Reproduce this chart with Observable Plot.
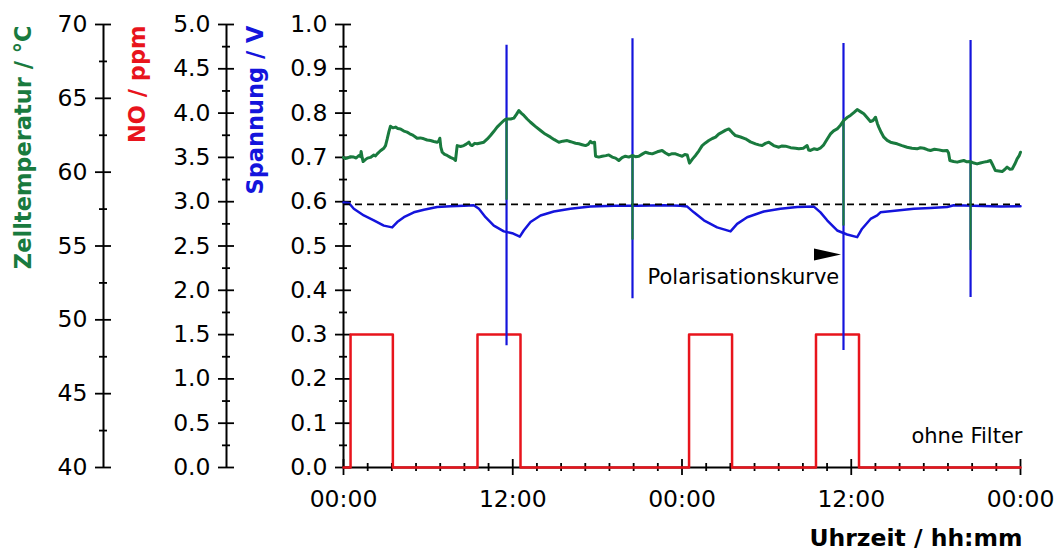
<!DOCTYPE html>
<html><head><meta charset="utf-8">
<script src="https://cdn.jsdelivr.net/npm/d3@7"></script>
<script src="https://cdn.jsdelivr.net/npm/@observablehq/plot@0.6"></script>
<style>body{margin:0;background:#fff}</style>
</head><body><div id="chart"></div>
<script>
// ---- data ----
const tempTime = [
  0.00,0.13,0.26,0.50,0.73,0.90,1.09,1.20,1.25,1.32,
  1.39,1.55,1.70,1.91,2.15,2.27,2.39,2.62,2.86,2.98,
  3.10,3.22,3.33,3.50,3.69,3.85,4.04,4.28,4.51,4.70,
  4.87,5.05,5.22,5.45,5.70,5.93,6.17,6.40,6.64,6.75,
  6.83,6.90,7.00,7.17,7.35,7.58,7.82,7.94,8.06,8.30,
  8.53,8.70,8.89,9.00,9.12,9.30,9.48,9.72,9.95,10.20,
  10.42,10.65,10.89,11.13,11.37,11.50,11.60,11.85,12.08,12.25,
  12.43,12.60,12.79,13.02,13.26,13.60,13.97,14.30,14.68,14.95,
  15.27,15.55,15.86,16.05,16.21,16.45,16.69,16.92,17.16,17.35,
  17.51,17.63,17.80,17.87,18.10,18.34,18.60,18.81,19.05,19.29,
  19.52,19.75,19.99,20.23,20.47,20.70,20.94,21.18,21.41,21.65,
  21.89,22.25,22.59,22.83,23.07,23.30,23.54,23.78,24.01,24.20,
  24.37,24.53,24.75,24.96,25.20,25.43,25.66,25.90,26.15,26.38,
  26.60,26.85,27.10,27.32,27.55,27.79,28.15,28.50,28.85,29.21,
  29.45,29.68,29.92,30.16,30.50,30.87,31.10,31.34,31.70,32.05,
  32.28,32.60,32.87,32.98,33.11,33.35,33.58,33.80,34.05,34.30,
  34.53,34.75,35.00,35.25,35.47,35.70,35.94,36.20,36.42,36.65,
  36.89,37.12,37.36,37.55,37.72,37.85,37.95,38.12,38.31,38.55,
  38.78,39.00,39.25,39.60,39.96,40.30,40.67,40.90,41.14,41.40,
  41.62,41.90,42.21,42.50,42.80,42.90,42.99,43.25,43.51,43.75,
  43.98,44.20,44.45,44.70,44.92,45.15,45.40,45.65,45.87,46.05,
  46.22,46.45,46.70,46.88,47.05,47.25,47.41,47.60,47.76,47.90,
  48.00];
const tempValue = [
  61.00,60.92,60.95,61.05,61.02,60.96,61.13,61.05,61.40,61.00,
  60.72,60.85,60.95,61.00,61.16,61.10,61.24,61.45,61.62,61.80,
  62.25,62.75,63.11,63.00,63.05,62.95,62.93,62.78,62.71,62.60,
  62.53,62.42,62.30,62.32,62.26,62.18,62.14,62.08,62.03,62.10,
  62.30,61.70,61.35,61.20,61.13,61.00,60.90,60.79,61.80,61.74,
  61.80,61.90,62.03,61.85,61.80,61.95,61.92,61.98,62.03,62.25,
  62.48,62.75,63.05,63.28,63.50,63.58,63.60,63.60,63.66,63.90,
  64.17,64.00,63.84,63.60,63.38,63.10,62.82,62.58,62.37,62.20,
  62.03,62.10,62.14,62.08,62.03,61.96,61.92,61.86,61.80,61.88,
  62.08,61.98,62.03,61.08,61.02,61.08,61.12,61.17,61.02,60.95,
  60.79,60.98,61.08,61.02,61.13,61.05,61.08,61.22,61.35,61.28,
  61.24,61.38,61.47,61.30,61.17,61.25,61.24,61.15,61.08,61.20,
  61.17,60.61,60.90,61.13,61.45,61.80,61.98,62.14,62.28,62.37,
  62.58,62.71,62.85,62.93,62.70,62.48,62.38,62.26,62.05,61.92,
  61.85,61.80,61.95,62.03,61.80,61.69,61.78,61.76,61.66,61.62,
  61.58,61.62,61.80,61.50,61.47,61.58,61.53,61.62,61.85,62.25,
  62.59,62.80,62.93,63.20,63.50,63.70,63.84,64.05,64.24,64.10,
  63.95,63.70,63.43,63.50,63.72,63.30,63.05,62.70,62.37,62.15,
  62.03,61.98,61.92,61.80,61.69,61.62,61.58,61.65,61.62,61.52,
  61.47,61.55,61.51,61.45,61.47,61.30,60.79,60.72,60.68,60.74,
  60.79,60.70,60.72,60.62,60.56,60.62,60.68,60.72,60.79,60.45,
  60.11,60.08,60.04,60.18,60.34,60.20,60.22,60.55,60.90,61.10,
  61.35];

const voltTime = [0.00,0.38,0.73,1.44,2.15,2.86,3.45,3.81,4.28,4.99,5.70,6.64,7.59,8.53,9.24,9.60,10.07,10.66,11.37,11.96,12.50,12.78,13.26,13.97,14.91,16.09,17.51,19.17,20.82,22.71,23.89,24.37,24.84,25.55,26.49,27.44,27.91,28.62,29.80,30.98,32.17,33.35,33.82,34.29,35.00,35.71,36.42,36.77,37.37,37.84,38.07,39.26,40.44,41.62,42.80,43.27,44.69,46.58,48.00];
const voltValue = [0.598,0.597,0.584,0.569,0.558,0.546,0.542,0.554,0.565,0.576,0.582,0.588,0.590,0.591,0.592,0.584,0.565,0.546,0.533,0.529,0.521,0.535,0.554,0.569,0.578,0.584,0.589,0.591,0.591,0.592,0.591,0.589,0.576,0.558,0.542,0.533,0.550,0.565,0.578,0.584,0.588,0.589,0.576,0.558,0.535,0.526,0.520,0.539,0.561,0.569,0.576,0.580,0.584,0.586,0.588,0.592,0.591,0.589,0.590];
const voltReference = 0.594;

const noStart = [0.5, 9.5, 24.5, 33.5];
const noEnd = [3.5, 12.55, 27.55, 36.55];
const noLevel = 1.5;
const timeEnd = 48;

const spikeTime = [11.56, 20.49, 35.45, 44.46];
const spikeVoltLow = [0.275, 0.381, 0.264, 0.384];
const spikeVoltHigh = [0.953, 0.968, 0.957, 0.964];
const spikeTempLow = [58.1, 55.4, 56.35, 54.7];
const spikeTempHigh = [63.6, 61.1, 63.5, 60.7];

const tempTicks = [40, 45, 50, 55, 60, 65, 70];
const noTicks = [0, 0.5, 1, 1.5, 2, 2.5, 3, 3.5, 4, 4.5, 5];
const voltTicks = [0, 0.1, 0.2, 0.3, 0.4, 0.5, 0.6, 0.7, 0.8, 0.9, 1.0];
const timeTicks = [0, 12, 24, 36, 48];
const timeTickLabels = ["00:00", "12:00", "00:00", "12:00", "00:00"];
const timeMinorPerMajor = 7;

const annotation = {text: "Polarisationskurve", t: 35.15, v: 0.43};
const arrowPos = {t: 34.28, v: 0.481};
const note = {text: "ohne Filter", t: 48.14, v: 0.07};

// ---- derived tables ----
const tempMin = 40, tempMax = 70, noMax = 5;
const tv = t => (t - tempMin) / (tempMax - tempMin);
const nv = n => n / noMax;
const tempData = tempTime.map((t, i) => ({t, v: tv(tempValue[i])}));
const voltData = voltTime.map((t, i) => ({t, v: voltValue[i]}));
const noData = [{t: 0, v: 0}];
noStart.forEach((s, i) => {
  noData.push({t: s, v: 0}, {t: s, v: nv(noLevel)}, {t: noEnd[i], v: nv(noLevel)}, {t: noEnd[i], v: 0});
});
noData.push({t: timeEnd, v: 0});
const spikes = spikeTime.map((t, i) => ({t, vl: spikeVoltLow[i], vh: spikeVoltHigh[i], tl: tv(spikeTempLow[i]), th: tv(spikeTempHigh[i])}));

const minorOf = (ticks, n) => {
  const out = [];
  for (let i = 0; i < ticks.length - 1; i++) {
    const a = ticks[i], b = ticks[i + 1];
    for (let k = 1; k < n; k++) out.push(a + (b - a) * k / n);
  }
  return out;
};
const tempMajor = tempTicks.map(tv), tempMinor = minorOf(tempMajor, 2);
const noMajor = noTicks.map(nv), noMinor = minorOf(noMajor, 2);
const voltMajor = voltTicks, voltMinor = minorOf(voltMajor, 2);
const timeMinor = minorOf(timeTicks, timeMinorPerMajor);

const GREEN = "#197a3e", BLUE = "#1414dc", RED = "#e8141c";
const FONT = 23.5;

const arrowSymbol = {draw(ctx) { ctx.moveTo(-13, -6); ctx.lineTo(14, 0); ctx.lineTo(-13, 6); ctx.closePath(); }};

function yAxis(major, minor, offset, fmt) {
  return [
    Plot.ruleX([0], {y1: 0, y2: 1, dx: offset, stroke: "black", strokeWidth: 2}),
    Plot.axisY(major, {anchor: "left", tickSize: 16, dx: offset + 8, tickPadding: 8, tickFormat: fmt, fontSize: FONT, strokeWidth: 1.8, label: null, color: "black"}),
    Plot.axisY(minor, {anchor: "left", tickSize: 8, dx: offset + 4, tickFormat: () => "", strokeWidth: 1.8, label: null})
  ];
}

const plot = Plot.plot({
  width: 1060,
  height: 554,
  marginLeft: 343,
  marginRight: 40,
  marginTop: 24,
  marginBottom: 87,
  x: {domain: [0, timeEnd], axis: null},
  y: {domain: [0, 1], axis: null},
  style: {fontFamily: "'DejaVu Sans', sans-serif", fontSize: FONT + "px", color: "black", background: "white", overflow: "visible"},
  marks: [
    ...yAxis(tempMajor, tempMinor, -240, v => String(Math.round(tempMin + v * (tempMax - tempMin)))),
    ...yAxis(noMajor, noMinor, -117, v => (v * noMax).toFixed(1)),
    ...yAxis(voltMajor, voltMinor, 0, v => v.toFixed(1)),
    Plot.ruleY([0], {x1: 0, x2: timeEnd, stroke: "black", strokeWidth: 2}),
    Plot.axisX(timeTicks, {anchor: "bottom", tickSize: 16, dy: -8, tickPadding: 15, tickFormat: (d) => timeTickLabels[timeTicks.indexOf(d)], fontSize: FONT, strokeWidth: 1.8, label: null}),
    Plot.axisX(timeMinor, {anchor: "bottom", tickSize: 8, dy: -4, tickFormat: () => "", strokeWidth: 1.8, label: null}),
    Plot.line(noData, {x: "t", y: "v", stroke: RED, strokeWidth: 2.5}),
    Plot.line(voltData, {x: "t", y: "v", stroke: BLUE, strokeWidth: 2.5}),
    Plot.ruleX(spikes, {x: "t", y1: "vl", y2: "vh", stroke: BLUE, strokeWidth: 2.2}),
    Plot.ruleY([voltReference], {x1: 0, x2: timeEnd, stroke: "black", strokeWidth: 1.6, strokeDasharray: "7,5"}),
    Plot.line(tempData, {x: "t", y: "v", stroke: GREEN, strokeWidth: 3, strokeLinejoin: "round"}),
    Plot.ruleX(spikes, {x: "t", y1: "tl", y2: "th", stroke: GREEN, strokeWidth: 2.2}),
    Plot.dot([arrowPos], {x: "t", y: "v", symbol: arrowSymbol, fill: "black", stroke: null}),
    Plot.text([annotation], {x: "t", y: "v", text: "text", textAnchor: "end", fontSize: 21, fill: "black"}),
    Plot.text([note], {x: "t", y: "v", text: "text", textAnchor: "end", fontSize: 21, fill: "black"}),
    Plot.text(["Zelltemperatur / °C"], {frameAnchor: "top-left", rotate: -90, textAnchor: "end", lineAnchor: "middle", dx: -320, dy: 1, fill: GREEN, fontWeight: "bold", fontSize: 22.5}),
    Plot.text(["NO / ppm"], {frameAnchor: "top-left", rotate: -90, textAnchor: "end", lineAnchor: "middle", dx: -206, dy: 1, fill: RED, fontWeight: "bold", fontSize: 22.5}),
    Plot.text(["Spannung / V"], {frameAnchor: "top-left", rotate: -90, textAnchor: "end", lineAnchor: "middle", dx: -88, dy: 1, fill: BLUE, fontWeight: "bold", fontSize: 22.5}),
    Plot.text(["Uhrzeit / hh:mm"], {frameAnchor: "bottom-right", textAnchor: "end", lineAnchor: "middle", dx: 2, dy: 71, fill: "black", fontWeight: "bold", fontSize: 23.5})
  ]
});
document.getElementById("chart").append(plot);
</script>
</body></html>
